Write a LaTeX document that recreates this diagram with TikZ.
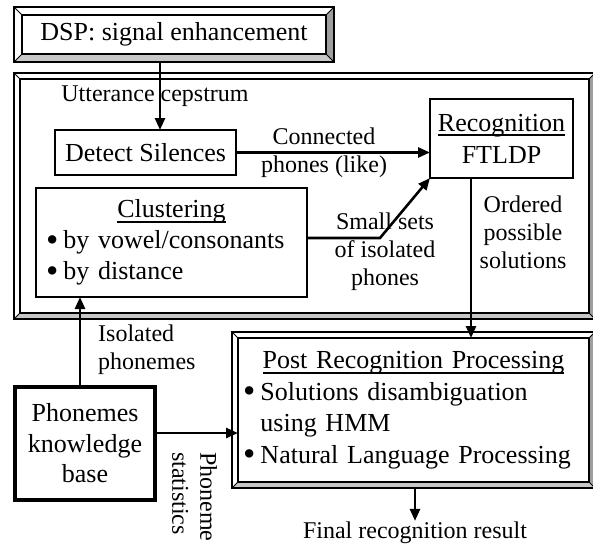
\documentclass[tikz,border=0pt]{standalone}
\usepackage{fontspec}
\setmainfont{Liberation Serif}
\usetikzlibrary{arrows.meta}

% underlined heading with the rule just under the baseline
\newsavebox\ulbox
\newcommand\ulabel[1]{\sbox\ulbox{#1}\rlap{\rule[-5pt]{\wd\ulbox}{1.6pt}}\usebox\ulbox}
% larger list bullet, kept at x-height level
\newcommand\bul{\raisebox{-0.1em}{\scalebox{1.35}{\textbullet}}\hspace{0.2em}}

\colorlet{bevR}{black!38}
\colorlet{bevB}{black!22}

% raised frame around a node: #1 node name, #2 bevel width
\newcommand\bevel[2]{%
  \fill[bevR] ([shift={(#2,-#2)}]#1.north east) -- ([shift={(#2,#2)}]#1.south east)
     -- (#1.south east) -- (#1.north east) -- cycle;
  \fill[bevB] ([shift={(-#2,#2)}]#1.south west) -- ([shift={(#2,#2)}]#1.south east)
     -- (#1.south east) -- (#1.south west) -- cycle;
  \draw[bevedge] ([shift={(-#2,-#2)}]#1.north west) rectangle ([shift={(#2,#2)}]#1.south east);
  \foreach \c/\dx/\dy in {north west/-1/-1, north east/1/-1, south east/1/1, south west/-1/1}
    \draw[bevdiag] (#1.\c) -- ([shift={(\dx*#2,\dy*#2)}]#1.\c);
  \draw[bevedge] (#1.north west) rectangle (#1.south east);
}

\tikzset{
  boxfont/.style={font=\fontsize{26}{31}\selectfont},
  lblfont/.style={font=\fontsize{24}{28}\selectfont},
  plainbox/.style={draw, line width=1.8pt, outer sep=0pt, inner sep=2pt, boxfont},
  panel/.style={outer sep=0pt, inner sep=2pt, boxfont},
  bevedge/.style={line width=1.8pt},
  bevdiag/.style={line width=0.8pt},
  lbl/.style={lblfont, align=center, inner sep=0pt},
  arr/.style={line width=2.6pt, -{Triangle[length=12pt,width=10pt]}}
}

\begin{document}
\begin{tikzpicture}[x=1pt, y=-1pt]
\useasboundingbox (0,0) rectangle (593,544);

% framed panels
\node[panel, minimum width=304, minimum height=39] (dsp) at (174,34.5) {DSP: signal enhancement};
\node[panel, minimum width=569, minimum height=234] (frame) at (304.5,196) {};
\node[panel, minimum width=351, minimum height=144, text width=341, inner xsep=5pt, align=left,
      font=\fontsize{26}{31.5}\selectfont] (post) at (413.5,410)
  {\makebox[\hsize]{\ulabel{Post Recognition Processing}}\\
   \bul Solutions disambiguation\\
   \phantom{\bul}using HMM\\
   \bul Natural Language Processing};
\bevel{dsp}{8}
\bevel{frame}{6}
\bevel{post}{6}

% plain boxes
\node[plainbox, minimum width=181, minimum height=45] (detect) at (145.5,152.5) {Detect Silences};
\node[plainbox, minimum width=143, minimum height=79, align=center] (recog) at (501.5,138.5)
  {\ulabel{Recognition}\\[1pt]FTLDP};
\node[plainbox, minimum width=271, minimum height=109, text width=251, inner xsep=10pt, align=left] (clust) at (171.5,242.5)
  {\makebox[\hsize]{\ulabel{Clustering}}\\
   \bul by vowel/consonants\\
   \bul by distance};
\node[plainbox, line width=3.5pt, minimum width=140, minimum height=113, align=center,
      font=\fontsize{26}{30.5}\selectfont] (phon) at (85,443.5)
  {Phonemes\\knowledge\\base};

% labels
\node[lbl] (lutt) at (155,96) {Utterance cepstrum};
\node[lbl] (lconn) at (324,153) {Connected\\phones (like)};
\node[lbl] (lsmall) at (385,252) {Small sets\\of isolated\\phones};
\node[lbl] (lord) at (523,232) {Ordered\\possible\\solutions};
\node[lbl, align=left, anchor=west] (liso) at (98,350) {Isolated\\phonemes};
\node[lbl, align=left, rotate=-90, anchor=west] (lstat) at (194.5,452) {Phoneme\\statistics};
\node[lbl, inner sep=1pt] (final) at (415,533) {Final recognition result};

% connectors
\coordinate (dspout) at ([yshift=-8pt]dsp.south);
\coordinate (postout) at ([yshift=-6pt]post.south);
\coordinate (kink) at (380,238);
\coordinate (phonout) at ([yshift=10.5pt]phon.east);
\draw[arr] ([xshift=14.5pt]detect.north |- dspout) -- ([xshift=14.5pt]detect.north);
\draw[arr] (detect.east) -- (recog.west |- detect.east);
\draw[arr] (clust.east |- kink) -- (kink) -- (recog.south west);
\draw[arr] ([xshift=-30.5pt]recog.south) -- ([xshift=-30.5pt]recog.south |- post.north);
\draw[arr] ([xshift=-5pt]phon.north) -- ([xshift=-5pt]phon.north |- clust.south);
\draw[arr] (phonout) -- (post.west |- phonout);
\draw[arr] (final.north |- postout) -- (final.north);
\end{tikzpicture}
\end{document}
